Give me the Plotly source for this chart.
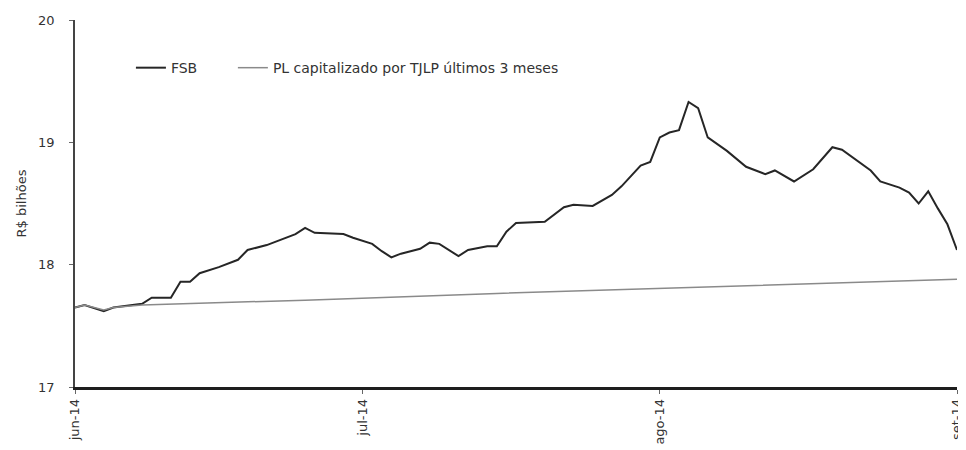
import plotly.graph_objects as go

# FSB series (R$ bilhões)
fsb_dates = [
    "2014-06-01", "2014-06-02", "2014-06-04", "2014-06-05", "2014-06-08", "2014-06-09",
    "2014-06-11", "2014-06-12", "2014-06-13", "2014-06-14", "2014-06-16", "2014-06-18",
    "2014-06-19", "2014-06-21", "2014-06-24", "2014-06-25", "2014-06-26", "2014-06-28",
    "2014-06-29", "2014-06-30",
    "2014-07-02", "2014-07-03", "2014-07-04", "2014-07-05", "2014-07-07", "2014-07-08",
    "2014-07-09", "2014-07-11", "2014-07-12", "2014-07-14", "2014-07-15", "2014-07-16",
    "2014-07-17", "2014-07-20", "2014-07-22", "2014-07-23", "2014-07-25", "2014-07-27",
    "2014-07-28", "2014-07-30", "2014-07-31",
    "2014-08-01", "2014-08-02", "2014-08-03", "2014-08-04", "2014-08-05", "2014-08-06",
    "2014-08-08", "2014-08-10", "2014-08-12", "2014-08-13", "2014-08-15", "2014-08-17",
    "2014-08-19", "2014-08-20", "2014-08-23", "2014-08-24", "2014-08-26", "2014-08-27",
    "2014-08-28", "2014-08-29", "2014-08-30", "2014-08-31", "2014-09-01",
]
fsb_values = [
    17.65, 17.67, 17.62, 17.65, 17.68, 17.73,
    17.73, 17.86, 17.86, 17.93, 17.98, 18.04,
    18.12, 18.16, 18.25, 18.30, 18.26, 18.25,
    18.25, 18.22,
    18.17, 18.11, 18.06, 18.09, 18.13, 18.18,
    18.17, 18.07, 18.12, 18.15, 18.15, 18.27,
    18.34, 18.35, 18.47, 18.49, 18.48, 18.57,
    18.64, 18.81, 18.84,
    19.04, 19.08, 19.10, 19.33, 19.28, 19.04,
    18.93, 18.80, 18.74, 18.77, 18.68, 18.78,
    18.96, 18.94, 18.77, 18.68, 18.63, 18.59,
    18.50, 18.60, 18.46, 18.33, 18.12,
]

# PL capitalizado por TJLP
pl_dates = ["2014-06-01", "2014-06-02", "2014-06-04", "2014-06-05", "2014-06-08",
            "2014-06-25", "2014-07-15", "2014-08-02", "2014-09-01"]
pl_values = [17.65, 17.67, 17.63, 17.65, 17.67, 17.71, 17.765, 17.81, 17.88]

tick_dates = ["2014-06-01", "2014-07-01", "2014-08-01", "2014-09-01"]
tick_labels = ["jun-14", "jul-14", "ago-14", "set-14"]

y_ticks = [17, 18, 19, 20]

fig = go.Figure()
fig.add_trace(go.Scatter(
    x=fsb_dates, y=fsb_values, mode="lines", name="FSB",
    line=dict(color="#262626", width=2), legend="legend",
))
fig.add_trace(go.Scatter(
    x=pl_dates, y=pl_values, mode="lines",
    name="PL capitalizado por TJLP últimos 3 meses",
    line=dict(color="#8a8a8a", width=1.5), legend="legend2",
))

FAM = "DejaVu Sans, sans-serif"
font = dict(family=FAM, size=13, color="#333333")

legend_common = dict(
    orientation="h", yanchor="middle", xanchor="left", y=0.869,
    bgcolor="rgba(0,0,0,0)", font=dict(family=FAM, size=14, color="#333333"),
    itemwidth=30,
)

fig.update_layout(
    width=958, height=442,
    margin=dict(l=67, r=9, t=12, b=63, autoexpand=False),
    paper_bgcolor="white", plot_bgcolor="white",
    font=font,
    showlegend=True,
    legend=dict(x=0.0634, **legend_common),
    legend2=dict(x=0.179, **legend_common),
    xaxis=dict(
        type="date", automargin=False,
        range=["2014-06-01", "2014-09-01"],
        tickvals=tick_dates, ticktext=tick_labels, tickangle=-90,
        showgrid=False, zeroline=False,
        showline=True, linecolor="#1e1e1e", linewidth=2.5,
        ticks="outside", ticklen=4, tickcolor="#666666",
        tickfont=dict(family=FAM, size=13, color="#333333"),
    ),
    yaxis=dict(
        automargin=False,
        range=[17, 20],
        tickvals=y_ticks,
        showgrid=False, zeroline=False,
        showline=True, linecolor="#444444", linewidth=1.5,
        ticks="outside", ticklen=4, tickcolor="#666666",
        ticklabelstandoff=12,
        title=dict(text="R$ bilhões", font=dict(family=FAM, size=13, color="#333333"), standoff=9),
        tickfont=dict(family=FAM, size=13, color="#333333"),
    ),
)

fig.write_html("out.html")
